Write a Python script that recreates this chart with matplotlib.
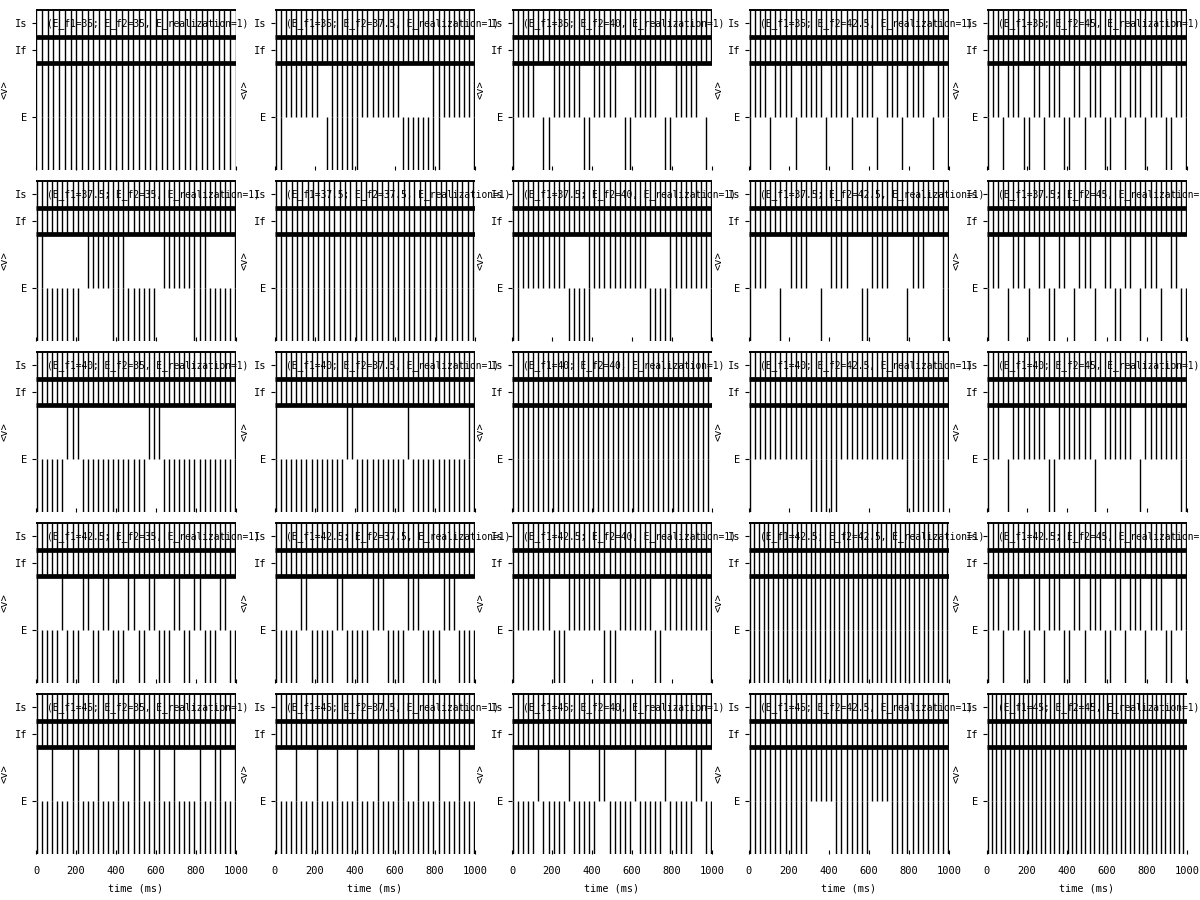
import matplotlib
matplotlib.use("Agg")
import matplotlib.pyplot as plt

f_labels = ["35", "37.5", "40", "42.5", "45"]

# raster rows (neuron index) of the four populations
y_e2 = (0, 200)
y_e1 = (200, 400)
y_if = (400, 500)
y_is = (500, 600)
ytick_pos = [200, 450, 550]
ytick_lab = ["E", "If", "Is"]
xtick_pos = [0, 200, 400, 600, 800, 1000]

# times (ms) of the population volleys
cyc_35 = [2, 30, 59, 87, 116, 144, 173, 201, 230, 258, 287, 315, 344, 372, 401, 429, 458, 486,
          515, 543, 572, 600, 629, 657, 686, 714, 743, 771, 800, 828, 857, 885, 914, 942, 971, 999]
cyc_375 = [3, 30, 56, 83, 110, 136, 163, 190, 216, 243, 270, 296, 323, 350, 376, 403, 430, 456, 483,
           510, 536, 563, 590, 616, 643, 670, 696, 723, 750, 776, 803, 830, 856, 883, 910, 936, 963, 990]
cyc_40 = [4, 29, 54, 79, 104, 129, 154, 179, 204, 229, 254, 279, 304, 329, 354, 379, 404, 429, 454, 479,
          504, 529, 554, 579, 604, 629, 654, 679, 704, 729, 754, 779, 804, 829, 854, 879, 904, 929, 954, 979]
cyc_425 = [3, 27, 50, 74, 97, 121, 144, 168, 191, 215, 238, 262, 285, 309, 332, 356, 379, 403, 426, 450, 473,
           497, 520, 544, 567, 591, 614, 638, 661, 685, 708, 732, 755, 779, 802, 826, 849, 873, 896, 920, 943, 967, 990]
cyc_45 = [3, 25, 47, 70, 92, 114, 136, 158, 181, 203, 225, 247, 269, 292, 314, 336, 358, 380, 403, 425, 447, 469,
          491, 514, 536, 558, 580, 602, 625, 647, 669, 691, 713, 736, 758, 780, 802, 824, 847, 869, 891, 913, 935, 958, 980]
cyc_mix = [5, 30, 56, 81, 107, 132, 157, 183, 208, 234, 259, 284, 310, 335, 361, 386, 411, 437, 462, 488,
           513, 538, 564, 589, 615, 640, 665, 691, 716, 742, 767, 792, 818, 843, 869, 894, 919, 945, 970, 996]

# firing periods (ms) of the two excitatory groups, E1 (upper) and E2 (lower)
full = [(0, 1000)]

e1_01 = [(0, 215), (280, 620), (785, 1000)]
e2_01 = [(0, 40), (235, 420), (630, 840), (985, 1000)]
e1_02 = [(0, 130), (205, 335), (405, 535), (605, 735), (805, 940)]
e2_02 = [(0, 10), (145, 200), (345, 400), (545, 600), (745, 800), (950, 985)]
e1_03 = [(0, 90), (128, 215), (252, 380), (405, 490), (535, 625), (668, 750), (792, 890), (935, 1000)]
e2_03 = [(0, 10), (95, 125), (220, 248), (385, 400), (495, 530), (630, 662), (755, 788), (895, 930), (985, 1000)]
e1_04 = [(0, 70), (95, 170), (215, 275), (300, 370), (420, 480), (505, 575), (625, 685), (705, 780), (805, 885), (930, 1000)]
e2_04 = [(0, 10), (75, 95), (175, 215), (280, 295), (375, 415), (480, 500), (580, 620), (685, 700), (785, 800), (890, 925), (990, 1000)]

e1_10 = [(0, 35), (235, 445), (635, 845), (985, 1000)]
e2_10 = [(0, 225), (375, 605), (775, 1000)]
e1_12 = [(0, 260), (385, 665), (785, 1000)]
e2_12 = [(0, 30), (275, 410), (675, 810), (980, 1000)]
e1_13 = [(0, 105), (195, 300), (405, 505), (605, 715), (795, 875), (970, 1000)]
e2_13 = [(0, 10), (135, 175), (345, 385), (560, 600), (775, 815), (965, 1000)]
e1_14 = [(0, 80), (115, 190), (235, 300), (345, 410), (455, 520), (565, 630), (675, 740), (785, 850), (895, 960)]
e2_14 = [(0, 10), (90, 110), (200, 230), (310, 340), (420, 450), (530, 560), (640, 670), (750, 780), (860, 890), (970, 1000)]

e1_20 = [(0, 10), (140, 210), (560, 620), (985, 1000)]
e2_20 = [(0, 140), (210, 560), (620, 1000)]
e1_21 = [(0, 10), (345, 395), (645, 690), (970, 1000)]
e2_21 = [(0, 345), (395, 645), (690, 1000)]
e1_23 = [(0, 1000)]
e2_23 = [(0, 10), (300, 440), (770, 980)]
e1_24 = [(0, 80), (115, 300), (345, 520), (565, 740), (785, 1000)]
e2_24 = [(0, 10), (90, 110), (310, 340), (530, 560), (750, 780), (970, 1000)]

e1_30 = [(0, 10), (110, 140), (215, 260), (330, 380), (440, 500), (560, 610), (680, 730), (790, 840), (905, 950)]
e2_30 = [(0, 110), (140, 215), (260, 330), (380, 440), (500, 560), (610, 680), (730, 790), (840, 905), (950, 1000)]
e1_31 = [(0, 10), (120, 180), (300, 360), (480, 540), (660, 720), (840, 900)]
e2_31 = [(0, 120), (180, 300), (360, 480), (540, 660), (720, 840), (900, 1000)]
e1_32 = [(0, 200), (260, 450), (520, 700), (760, 1000)]
e2_32 = [(0, 10), (200, 260), (450, 520), (700, 760), (990, 1000)]
e1_34 = [(0, 70), (95, 170), (215, 275), (300, 370), (420, 480), (505, 575), (625, 685), (705, 780), (805, 885), (930, 1000)]
e2_34 = [(0, 10), (75, 95), (175, 215), (280, 295), (375, 415), (480, 500), (580, 620), (685, 700), (785, 800), (890, 925), (990, 1000)]

e1_40 = [(0, 10), (80, 100), (175, 225), (290, 310), (395, 415), (485, 515), (585, 615), (685, 705), (810, 820), (890, 920), (975, 1000)]
e2_40 = [(0, 1000)]
e1_41 = [(0, 10), (90, 110), (190, 230), (300, 320), (400, 430), (500, 530), (600, 640), (700, 720), (800, 830), (900, 930)]
e2_41 = [(0, 1000)]
e1_42 = [(0, 10), (110, 150), (280, 300), (430, 475), (590, 630), (765, 780), (915, 955)]
e2_42 = [(0, 110), (155, 280), (305, 430), (480, 590), (635, 765), (785, 915), (960, 1000)]
e1_43 = [(0, 1000)]
e2_43 = [(0, 300), (420, 600), (700, 1000)]

panels = {
    (0, 0): (cyc_35, full, full), (0, 1): (cyc_mix, e1_01, e2_01), (0, 2): (cyc_mix, e1_02, e2_02),
    (0, 3): (cyc_mix, e1_03, e2_03), (0, 4): (cyc_mix, e1_04, e2_04),
    (1, 0): (cyc_mix, e1_10, e2_10), (1, 1): (cyc_375, full, full), (1, 2): (cyc_mix, e1_12, e2_12),
    (1, 3): (cyc_mix, e1_13, e2_13), (1, 4): (cyc_mix, e1_14, e2_14),
    (2, 0): (cyc_mix, e1_20, e2_20), (2, 1): (cyc_mix, e1_21, e2_21), (2, 2): (cyc_40, full, full),
    (2, 3): (cyc_mix, e1_23, e2_23), (2, 4): (cyc_mix, e1_24, e2_24),
    (3, 0): (cyc_mix, e1_30, e2_30), (3, 1): (cyc_mix, e1_31, e2_31), (3, 2): (cyc_mix, e1_32, e2_32),
    (3, 3): (cyc_425, full, full), (3, 4): (cyc_mix, e1_34, e2_34),
    (4, 0): (cyc_mix, e1_40, e2_40), (4, 1): (cyc_mix, e1_41, e2_41), (4, 2): (cyc_mix, e1_42, e2_42),
    (4, 3): (cyc_mix, e1_43, e2_43), (4, 4): (cyc_45, full, full),
}


def firing(times, periods):
    return [t for t in times if any(a <= t <= b for a, b in periods)]


mono = "DejaVu Sans Mono"
fig = plt.figure(figsize=(12, 9), dpi=100)
lefts = [36, 275, 512, 749, 987]

for r in range(5):
    for c in range(5):
        ax = fig.add_axes([lefts[c] / 1200, 1 - (170 + 171 * r) / 900, 200 / 1200, 160 / 900])
        cyc, p1, p2 = panels[(r, c)]
        kw = dict(color="black", lw=1.0)
        ax.vlines(cyc, y_if[0], y_is[1], **kw)
        ax.vlines(firing(cyc, p1), *y_e1, **kw)
        ax.vlines(firing(cyc, p2), *y_e2, **kw)
        ax.hlines([y_if[0], y_is[0]], 0, 1000, color="black", lw=3.4)
        ax.hlines(y_is[1], 0, 1000, color="black", lw=1.4, clip_on=False)
        ax.set_xlim(0, 1000)
        ax.set_ylim(0, 600)
        for s in ax.spines.values():
            s.set_visible(False)
        ax.set_yticks(ytick_pos)
        ax.set_yticklabels(ytick_lab, fontfamily=mono, fontsize=7.5)
        ax.tick_params(axis="y", direction="out", length=3, width=0.8, pad=3)
        ax.set_xticks(xtick_pos)
        ax.tick_params(axis="x", direction="in", length=3, width=0.8, pad=9)
        if r == 4:
            ax.set_xticklabels([str(v) for v in xtick_pos], fontfamily=mono, fontsize=7.5)
            ax.set_xlabel("time (ms)", fontfamily=mono, fontsize=7.3, labelpad=5)
        else:
            ax.set_xticklabels([])
        ax.text(-0.155, 0.5, "<v>", transform=ax.transAxes, rotation=90, ha="center", va="center",
                fontfamily=mono, fontsize=7.5)
        title = f"(E_f1={f_labels[r]}; E_f2={f_labels[c]}, E_realization=1)"
        ax.text(55, 550, title, fontfamily=mono, fontsize=6.9, va="center", ha="left", clip_on=False)

fig.savefig("out.png", dpi=100)
